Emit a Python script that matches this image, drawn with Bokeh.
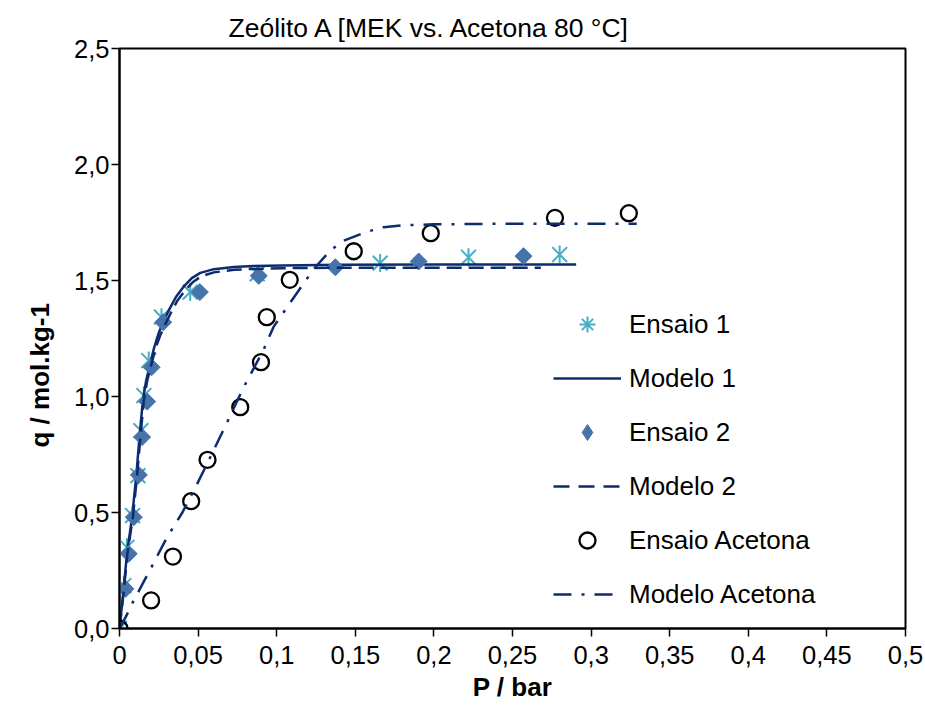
import numpy as np
from bokeh.plotting import figure
from bokeh.models import Legend, LegendItem, FixedTicker, Range1d, Title
from bokeh.embed import file_html
from bokeh.resources import INLINE

title_text = "Zeólito A [MEK vs. Acetona 80 °C]"
x_label = "P / bar"
y_label = "q / mol.kg-1"

x_ticks = [0, 0.05, 0.1, 0.15, 0.2, 0.25, 0.3, 0.35, 0.4, 0.45, 0.5]
x_tick_labels = ["0", "0,05", "0,1", "0,15", "0,2", "0,25", "0,3", "0,35", "0,4", "0,45", "0,5"]
y_ticks = [0, 0.5, 1, 1.5, 2, 2.5]
y_tick_labels = ["0,0", "0,5", "1,0", "1,5", "2,0", "2,5"]

series_names = ["Ensaio 1", "Modelo 1", "Ensaio 2", "Modelo 2", "Ensaio Acetona", "Modelo Acetona"]

# Ensaio 1 (asterisks)
ensaio1_p = [0.0, 0.0028, 0.0047, 0.0083, 0.0117, 0.0136, 0.0155, 0.0186, 0.0267, 0.045, 0.0876, 0.1658, 0.222, 0.280]
ensaio1_q = [0.0, 0.185, 0.350, 0.487, 0.659, 0.853, 1.004, 1.155, 1.342, 1.450, 1.529, 1.575, 1.600, 1.612]

# Modelo 1 (solid)
modelo1_p = [0, 0.0025, 0.0047, 0.008, 0.0107, 0.0127, 0.0149, 0.017, 0.019, 0.022, 0.025, 0.028,
             0.032, 0.036, 0.041, 0.046, 0.0514, 0.060, 0.0727, 0.085, 0.104, 0.14, 0.20, 0.2905]
modelo1_q = [0, 0.16, 0.32, 0.48, 0.66, 0.825, 0.985, 1.07, 1.126, 1.21, 1.275, 1.325,
             1.38, 1.43, 1.475, 1.51, 1.533, 1.549, 1.558, 1.562, 1.565, 1.568, 1.569, 1.569]

# Ensaio 2 (diamonds)
ensaio2_p = [0.0038, 0.0059, 0.0091, 0.0123, 0.0144, 0.0176, 0.0204, 0.0278, 0.0511, 0.0886, 0.1373, 0.1903, 0.257]
ensaio2_q = [0.171, 0.322, 0.480, 0.662, 0.825, 0.978, 1.126, 1.320, 1.450, 1.520, 1.557, 1.582, 1.605]

# Modelo 2 (dashed)
modelo2_p = [0, 0.0027, 0.005, 0.0085, 0.0112, 0.0133, 0.0155, 0.0177, 0.0198, 0.023, 0.026, 0.029,
             0.033, 0.037, 0.042, 0.047, 0.052, 0.060, 0.073, 0.085, 0.104, 0.14, 0.20, 0.268]
modelo2_q = [0, 0.16, 0.32, 0.48, 0.66, 0.825, 0.985, 1.07, 1.126, 1.21, 1.265, 1.31,
             1.365, 1.415, 1.46, 1.495, 1.518, 1.535, 1.546, 1.55, 1.553, 1.555, 1.555, 1.555]

# Ensaio Acetona (open circles)
acetona_p = [0.0, 0.0201, 0.034, 0.0456, 0.056, 0.0768, 0.090, 0.0937, 0.1083, 0.149, 0.198, 0.277, 0.324]
acetona_q = [0.0, 0.121, 0.310, 0.549, 0.727, 0.954, 1.148, 1.342, 1.503, 1.626, 1.704, 1.770, 1.790]

# Modelo Acetona (dash-dot)
modelo_ac_p = [0, 0.004, 0.009, 0.02, 0.03, 0.04, 0.0473, 0.055, 0.068, 0.079, 0.0914, 0.098, 0.111,
               0.1236, 0.134, 0.1427, 0.1564, 0.168, 0.18, 0.20, 0.23, 0.27, 0.329]
modelo_ac_q = [0, 0.05, 0.12, 0.26, 0.39, 0.50, 0.595, 0.70, 0.882, 1.04, 1.198, 1.30, 1.428,
               1.55, 1.629, 1.672, 1.708, 1.73, 1.738, 1.742, 1.744, 1.745, 1.745]

FONT = "Liberation Sans"
TEAL = "#4BACC6"
NAVY = "#0C2C6E"
BLUE = "#4673AA"
DASH2 = "15 7"
DASHDOT = "18 10 3 10"

p = figure(width=925, height=713, x_range=Range1d(0, 0.5), y_range=Range1d(0, 2.5),
           output_backend="svg", toolbar_location=None,
           min_border_left=119, min_border_right=20, min_border_top=48, min_border_bottom=85)

p.background_fill_color = "white"
p.border_fill_color = "white"
p.outline_line_color = "black"
p.outline_line_width = 2
p.grid.visible = False

p.title.text = title_text
p.title.align = "left"
p.title.offset = 109
p.title.text_font = FONT
p.title.text_font_size = "26.5px"
p.title.text_font_style = "normal"
p.title.text_color = "black"
p.title.standoff = 11

for ax in (p.xaxis[0], p.yaxis[0]):
    ax.axis_line_color = "black"
    ax.axis_line_width = 2
    ax.major_tick_line_color = "black"
    ax.major_tick_line_width = 1.5
    ax.major_tick_in = 0
    ax.major_tick_out = 8
    ax.minor_tick_line_color = None
    ax.major_label_text_font = FONT
    ax.major_label_text_font_size = "25.5px"
    ax.major_label_text_color = "black"
    ax.axis_label_text_font = FONT
    ax.axis_label_text_font_size = "26px"
    ax.axis_label_text_font_style = "bold"
    ax.axis_label_text_color = "black"

p.xaxis.ticker = FixedTicker(ticks=x_ticks)
p.xaxis.major_label_overrides = dict(zip(x_ticks, x_tick_labels))
p.yaxis.ticker = FixedTicker(ticks=y_ticks)
p.yaxis.major_label_overrides = dict(zip(y_ticks, y_tick_labels))
p.xaxis.axis_label = x_label
p.xaxis.major_label_standoff = 9
p.xaxis.axis_label_standoff = 5
p.yaxis.major_label_standoff = 2

# y-axis title as a left-side title, placed a little below the frame centre (as in the reference)
ytitle = Title(text=y_label, align="left", offset=181, standoff=33,
               text_font=FONT, text_font_size="26px", text_font_style="bold", text_color="black")
p.add_layout(ytitle, "left")

# plotted series (Excel series order: later ones on top)
r_e1x = p.scatter(ensaio1_p, ensaio1_q, marker="x", size=21, line_color=TEAL, line_width=2)
r_e1d = p.scatter(ensaio1_p, ensaio1_q, marker="dash", angle=np.pi / 2, size=18, line_color=TEAL, line_width=2)
r_m1 = p.line(modelo1_p, modelo1_q, line_color=NAVY, line_width=2.5)
r_e2 = p.scatter(ensaio2_p, ensaio2_q, marker="square", angle=np.pi / 4, size=12,
                 fill_color=BLUE, line_color=BLUE, line_width=1)
r_m2 = p.line(modelo2_p, modelo2_q, line_color=NAVY, line_width=2.5, line_dash=DASH2)
r_ea = p.scatter(acetona_p, acetona_q, marker="circle", size=16, fill_color=None,
                 line_color="black", line_width=2.3)
r_ma = p.line(modelo_ac_p, modelo_ac_q, line_color=NAVY, line_width=2.5, line_dash=DASHDOT)

# legend-only swatches (legend ignores marker angle)
nan = [np.nan]
k_e1 = p.scatter(nan, nan, marker="asterisk", line_color=TEAL, line_width=2)
k_e2 = p.scatter(nan, nan, marker="diamond", fill_color=BLUE, line_color=BLUE, line_width=1)
k_m2 = p.line(nan, nan, line_color=NAVY, line_width=2.5, line_dash="16 9")

items = [
    LegendItem(label=series_names[0], renderers=[k_e1]),
    LegendItem(label=series_names[1], renderers=[r_m1]),
    LegendItem(label=series_names[2], renderers=[k_e2]),
    LegendItem(label=series_names[3], renderers=[k_m2]),
    LegendItem(label=series_names[4], renderers=[r_ea]),
    LegendItem(label=series_names[5], renderers=[r_ma]),
]
legend = Legend(items=items, location=(434, 14), glyph_width=68, glyph_height=40,
                label_height=40, spacing=14, padding=0, margin=0, label_standoff=8,
                border_line_color=None, background_fill_alpha=0,
                label_text_font=FONT, label_text_font_size="26px", label_text_color="black")
p.add_layout(legend)

open("out.html", "w").write(file_html(p, INLINE))
